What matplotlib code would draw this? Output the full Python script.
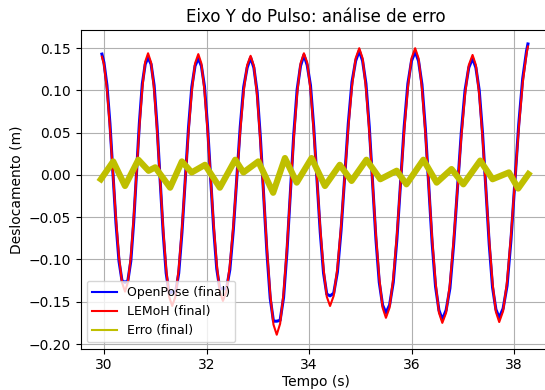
import matplotlib
matplotlib.use("Agg")
import matplotlib.pyplot as plt
from matplotlib.lines import Line2D

# sample times (s), shared by OpenPose and LEMoH
tempo = [
    29.960, 29.999, 30.058, 30.116, 30.175, 30.234, 30.293, 30.351, 30.410,
    30.466, 30.523, 30.579, 30.635, 30.691, 30.748, 30.804, 30.860,
    30.919, 30.978, 31.036, 31.095, 31.154, 31.213, 31.271, 31.330,
    31.394, 31.458, 31.521, 31.585, 31.649, 31.713, 31.776, 31.840,
    31.900, 31.960, 32.020, 32.080, 32.140, 32.200, 32.260, 32.320,
    32.388, 32.455, 32.523, 32.590, 32.658, 32.725, 32.793, 32.860,
    32.924, 32.988, 33.051, 33.115, 33.179, 33.243, 33.306, 33.370,
    33.436, 33.503, 33.569, 33.635, 33.701, 33.768, 33.834, 33.900,
    33.964, 34.028, 34.091, 34.155, 34.219, 34.283, 34.346, 34.410,
    34.481, 34.553, 34.624, 34.695, 34.766, 34.838, 34.909, 34.980,
    35.045, 35.110, 35.175, 35.240, 35.305, 35.370, 35.435, 35.500,
    35.571, 35.643, 35.714, 35.785, 35.856, 35.928, 35.999, 36.070,
    36.136, 36.203, 36.269, 36.335, 36.401, 36.468, 36.534, 36.600,
    36.674, 36.748, 36.821, 36.895, 36.969, 37.043, 37.116, 37.190,
    37.255, 37.320, 37.385, 37.450, 37.515, 37.580, 37.645, 37.710,
    37.786, 37.863, 37.939, 38.015, 38.091, 38.168, 38.244, 38.270,
]

lemoh = [
    0.140, 0.131, 0.101, 0.056, 0.002, -0.052, -0.097, -0.127, -0.138,
    -0.127, -0.097, -0.051, 0.003, 0.057, 0.103, 0.134, 0.144,
    0.133, 0.101, 0.052, -0.005, -0.063, -0.111, -0.144, -0.155,
    -0.144, -0.111, -0.063, -0.006, 0.051, 0.099, 0.132, 0.143,
    0.132, 0.100, 0.053, -0.003, -0.059, -0.106, -0.138, -0.149,
    -0.138, -0.107, -0.060, -0.004, 0.052, 0.099, 0.130, 0.141,
    0.129, 0.093, 0.039, -0.024, -0.087, -0.141, -0.177, -0.189,
    -0.176, -0.140, -0.086, -0.022, 0.042, 0.096, 0.132, 0.144,
    0.133, 0.101, 0.052, -0.005, -0.063, -0.111, -0.144, -0.155,
    -0.143, -0.110, -0.061, -0.003, 0.056, 0.105, 0.138, 0.150,
    0.138, 0.103, 0.052, -0.010, -0.071, -0.122, -0.157, -0.169,
    -0.157, -0.122, -0.071, -0.010, 0.052, 0.103, 0.138, 0.150,
    0.138, 0.102, 0.050, -0.013, -0.075, -0.127, -0.163, -0.175,
    -0.163, -0.129, -0.077, -0.017, 0.044, 0.095, 0.130, 0.142,
    0.130, 0.095, 0.044, -0.016, -0.077, -0.128, -0.162, -0.174,
    -0.161, -0.126, -0.072, -0.009, 0.055, 0.109, 0.144, 0.152,
]

openpose = [
    0.143, 0.133, 0.106, 0.061, 0.002, -0.057, -0.102, -0.125, -0.127,
    -0.125, -0.102, -0.056, 0.003, 0.062, 0.108, 0.131, 0.139,
    0.131, 0.106, 0.057, -0.005, -0.068, -0.116, -0.140, -0.138,
    -0.140, -0.116, -0.068, -0.006, 0.056, 0.104, 0.129, 0.138,
    0.129, 0.105, 0.058, -0.003, -0.064, -0.111, -0.135, -0.134,
    -0.135, -0.112, -0.065, -0.004, 0.057, 0.104, 0.127, 0.139,
    0.127, 0.098, 0.044, -0.024, -0.092, -0.146, -0.173, -0.173,
    -0.172, -0.145, -0.091, -0.022, 0.047, 0.101, 0.129, 0.142,
    0.130, 0.106, 0.057, -0.005, -0.068, -0.116, -0.141, -0.143,
    -0.140, -0.115, -0.066, -0.003, 0.061, 0.110, 0.135, 0.147,
    0.135, 0.108, 0.057, -0.010, -0.076, -0.127, -0.154, -0.163,
    -0.154, -0.127, -0.076, -0.010, 0.057, 0.108, 0.135, 0.146,
    0.135, 0.107, 0.055, -0.013, -0.080, -0.132, -0.160, -0.171,
    -0.160, -0.134, -0.082, -0.017, 0.049, 0.100, 0.127, 0.138,
    0.127, 0.100, 0.049, -0.016, -0.082, -0.133, -0.159, -0.169,
    -0.158, -0.131, -0.077, -0.009, 0.060, 0.114, 0.147, 0.155,
]

# error curve (centre of the noisy band)
tempo_erro = [
    29.94, 30.18, 30.41, 30.67, 30.87, 31.00, 31.29, 31.52, 31.71, 31.97,
    32.26, 32.56, 32.72, 33.01, 33.30, 33.53, 33.76, 34.05, 34.31, 34.60,
    34.83, 35.12, 35.39, 35.71, 35.90, 36.23, 36.49, 36.78, 37.01, 37.34,
    37.58, 37.90, 38.08, 38.28,
]
erro = [
    -0.005, 0.016, -0.013, 0.018, 0.005, 0.009, -0.015, 0.016, 0.003, 0.012,
    -0.015, 0.018, 0.003, 0.016, -0.021, 0.020, -0.009, 0.020, -0.013, 0.012,
    -0.007, 0.018, -0.005, 0.005, -0.011, 0.018, -0.009, 0.007, -0.011, 0.017,
    -0.005, 0.003, -0.016, 0.001,
]

fig = plt.figure(figsize=(5.45, 3.9), dpi=100)
ax = fig.add_axes([0.148, 0.106, 0.863, 0.817])

ax.plot(tempo, openpose, color="b", lw=2.2)
ax.plot(tempo, lemoh, color="r", lw=1.5)
ax.plot(tempo_erro, erro, color="y", lw=4.5)

ax.set_xlim(29.545, 38.72)
ax.set_ylim(-0.2055, 0.1715)
ax.set_xticks([30, 32, 34, 36, 38])
ax.set_title("Eixo Y do Pulso: análise de erro")
ax.set_xlabel("Tempo (s)", labelpad=2)
ax.set_ylabel("Deslocamento (m)")
ax.grid(True)

handles = [
    Line2D([], [], color="b", lw=1.5),
    Line2D([], [], color="r", lw=1.5),
    Line2D([], [], color="y", lw=1.5),
]
ax.legend(handles, ["OpenPose (final)", "LEMoH (final)", "Erro (final)"],
          loc="lower left", fontsize=9)

fig.savefig("out.png", dpi=100)
